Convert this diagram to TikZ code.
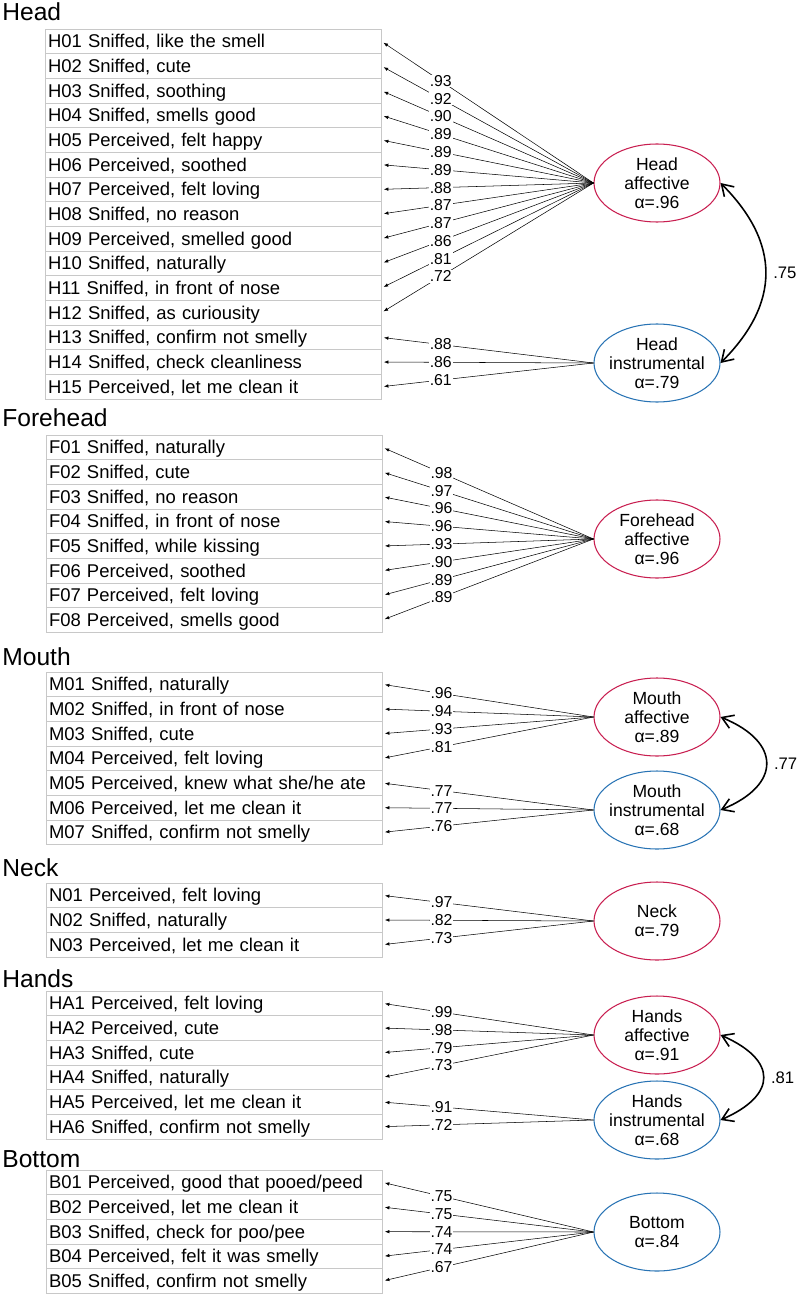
\documentclass[tikz,border=0pt]{standalone}
\usepackage{fontspec}
\setmainfont{Liberation Sans}
\usetikzlibrary{arrows.meta,shapes.geometric}

\definecolor{affred}{RGB}{200,30,80}
\definecolor{instblue}{RGB}{40,115,180}
\definecolor{boxgray}{RGB}{200,200,200}

\begin{document}
\begin{tikzpicture}[x=0.02cm, y=-0.02cm,
    heading/.style={font=\fontsize{14}{16}\selectfont, anchor=base west, inner sep=0pt},
    itembox/.style={draw=boxgray, line width=0.5pt, text width=6.6cm, align=left,
      inner xsep=0.06cm, inner ysep=0pt, minimum height=0.4933cm,
      text height=7.5pt, text depth=0pt, font=\fontsize{10.5}{12}\selectfont},
    latent/.style={ellipse, line width=0.6pt, minimum width=2.52cm, minimum height=1.56cm,
      inner xsep=-0.1cm, inner ysep=0pt, align=center, font=\fontsize{10}{10.8}\selectfont},
    load/.style={-{Latex[length=0.9mm,width=0.7mm]}, line width=0.3pt, shorten >=0.5mm},
    loading/.style={pos=0.72, fill=white, inner sep=0.5pt, font=\fontsize{9}{10}\selectfont},
    corr/.style={{Straight Barb[length=2.2mm,width=2.8mm]}-{Straight Barb[length=2.2mm,width=2.8mm]}, line width=0.9pt},
    corrlbl/.style={right=0.14cm, inner sep=0pt, font=\fontsize{9.5}{11}\selectfont}]

    \useasboundingbox (0,0) rectangle (800,1297);

    % Head
    \node[heading] (headT) at (2,21) {Head};
    \foreach \txt [count=\k] in {{H01 Sniffed, like the smell}, {H02 Sniffed, cute},
        {H03 Sniffed, soothing}, {H04 Sniffed, smells good}, {H05 Perceived, felt happy},
        {H06 Perceived, soothed}, {H07 Perceived, felt loving}, {H08 Sniffed, no reason},
        {H09 Perceived, smelled good}, {H10 Sniffed, naturally}, {H11 Sniffed, in front of nose},
        {H12 Sniffed, as curiousity}, {H13 Sniffed, confirm not smelly},
        {H14 Sniffed, check cleanliness}, {H15 Perceived, let me clean it}}
      \node[itembox] (h\k) at (213,{29+(\k-0.5)*24.67}) {\txt};
    \node[latent, draw=affred] (hA) at (657,183) {Head\\affective\\α=.96};
    \node[latent, draw=instblue] (hI) at (657,363) {Head\\instrumental\\α=.79};
    \foreach \k/\l in {1/.93, 2/.92, 3/.90, 4/.89, 5/.89, 6/.89, 7/.88, 8/.87, 9/.87, 10/.86, 11/.81, 12/.72}
      \draw[load] (hA.west) -- node[loading] (hl\k) {\l} (h\k.east);
    \foreach \k/\l in {13/.88, 14/.86, 15/.61}
      \draw[load] (hI.west) -- node[loading] (hl\k) {\l} (h\k.east);
    \draw[corr] (hA.east) .. controls +(60,60) and +(60,-60) .. node[corrlbl] (hc) {.75} (hI.east);

    % Forehead
    \node[heading] (foreT) at (2,426) {Forehead};
    \foreach \txt [count=\k] in {{F01 Sniffed, naturally}, {F02 Sniffed, cute},
        {F03 Sniffed, no reason}, {F04 Sniffed, in front of nose}, {F05 Sniffed, while kissing},
        {F06 Perceived, soothed}, {F07 Perceived, felt loving}, {F08 Perceived, smells good}}
      \node[itembox] (f\k) at (214,{435+(\k-0.5)*24.67}) {\txt};
    \node[latent, draw=affred] (fA) at (657,539) {Forehead\\affective\\α=.96};
    \foreach \k/\l in {1/.98, 2/.97, 3/.96, 4/.96, 5/.93, 6/.90, 7/.89, 8/.89}
      \draw[load] (fA.west) -- node[loading] (fl\k) {\l} (f\k.east);

    % Mouth
    \node[heading] (mouthT) at (2,665) {Mouth};
    \foreach \txt [count=\k] in {{M01 Sniffed, naturally}, {M02 Sniffed, in front of nose},
        {M03 Sniffed, cute}, {M04 Perceived, felt loving}, {M05 Perceived, knew what she/he ate},
        {M06 Perceived, let me clean it}, {M07 Sniffed, confirm not smelly}}
      \node[itembox] (m\k) at (214,{672+(\k-0.5)*24.67}) {\txt};
    \node[latent, draw=affred] (mA) at (657,717) {Mouth\\affective\\α=.89};
    \node[latent, draw=instblue] (mI) at (657,810) {Mouth\\instrumental\\α=.68};
    \foreach \k/\l in {1/.96, 2/.94, 3/.93, 4/.81}
      \draw[load] (mA.west) -- node[loading] (ml\k) {\l} (m\k.east);
    \foreach \k/\l in {5/.77, 6/.77, 7/.76}
      \draw[load] (mI.west) -- node[loading] (ml\k) {\l} (m\k.east);
    \draw[corr] (mA.east) .. controls +(61,25) and +(61,-25) .. node[corrlbl] (mc) {.77} (mI.east);

    % Neck
    \node[heading] (neckT) at (2,876) {Neck};
    \foreach \txt [count=\k] in {{N01 Perceived, felt loving}, {N02 Sniffed, naturally},
        {N03 Perceived, let me clean it}}
      \node[itembox] (n\k) at (214,{883+(\k-0.5)*24.67}) {\txt};
    \node[latent, draw=affred] (nA) at (657,921) {Neck\\α=.79};
    \foreach \k/\l in {1/.97, 2/.82, 3/.73}
      \draw[load] (nA.west) -- node[loading] (nl\k) {\l} (n\k.east);

    % Hands
    \node[heading] (handsT) at (2,987) {Hands};
    \foreach \txt [count=\k] in {{HA1 Perceived, felt loving}, {HA2 Perceived, cute},
        {HA3 Sniffed, cute}, {HA4 Sniffed, naturally}, {HA5 Perceived, let me clean it},
        {HA6 Sniffed, confirm not smelly}}
      \node[itembox] (ha\k) at (214,{991+(\k-0.5)*24.67}) {\txt};
    \node[latent, draw=affred] (haA) at (657,1035) {Hands\\affective\\α=.91};
    \node[latent, draw=instblue] (haI) at (657,1120) {Hands\\instrumental\\α=.68};
    \foreach \k/\l in {1/.99, 2/.98, 3/.79, 4/.73}
      \draw[load] (haA.west) -- node[loading] (hal\k) {\l} (ha\k.east);
    \foreach \k/\l in {5/.91, 6/.72}
      \draw[load] (haI.west) -- node[loading] (hal\k) {\l} (ha\k.east);
    \draw[corr] (haA.east) .. controls +(57,25) and +(57,-25) .. node[corrlbl] (hac) {.81} (haI.east);

    % Bottom
    \node[heading] (bottomT) at (2,1167) {Bottom};
    \foreach \txt [count=\k] in {{B01 Perceived, good that pooed/peed}, {B02 Perceived, let me clean it},
        {B03 Sniffed, check for poo/pee}, {B04 Perceived, felt it was smelly},
        {B05 Sniffed, confirm not smelly}}
      \node[itembox] (b\k) at (214,{1170+(\k-0.5)*24.67}) {\txt};
    \node[latent, draw=instblue] (bI) at (657,1232) {Bottom\\α=.84};
    \foreach \k/\l in {1/.75, 2/.75, 3/.74, 4/.74, 5/.67}
      \draw[load] (bI.west) -- node[loading] (bl\k) {\l} (b\k.east);
\end{tikzpicture}
\end{document}
